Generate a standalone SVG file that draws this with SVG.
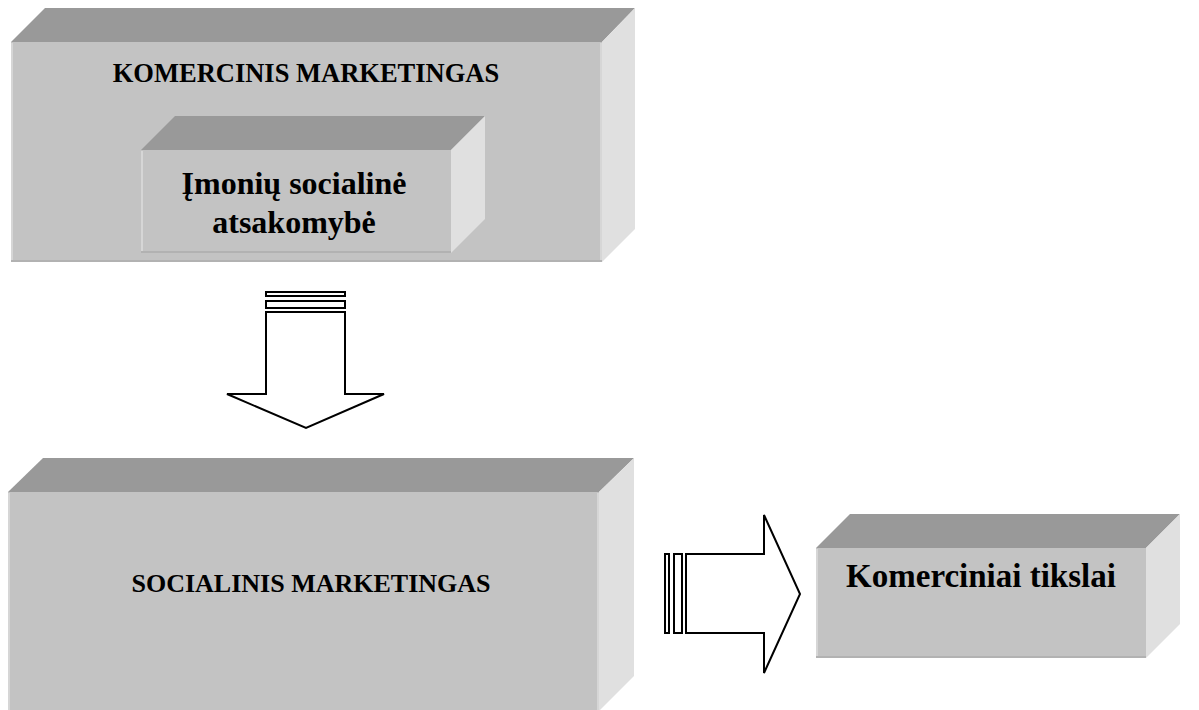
<svg xmlns="http://www.w3.org/2000/svg" width="1199" height="710" viewBox="0 0 1199 710">
<style>
.front{fill:#c3c3c3}
.top{fill:#999999}
.side{fill:#e0e0e0}
.hl{stroke:#d6d6d6;stroke-width:2}
.sh{stroke:#b2b2b2;stroke-width:2}
.lbl{font-family:"Liberation Serif","Times New Roman",serif;font-weight:bold;fill:#000;text-anchor:middle}
.arr{fill:#fff;stroke:#000;stroke-width:2}
</style>
<g id="komercinis">
<polygon class="top" points="11,42 45,8 635,8 602,42"/>
<polygon class="side" points="602,42 635,8 635,229 602,262"/>
<rect class="front" x="11" y="42" width="591" height="220"/>
<line class="hl" x1="12" y1="43" x2="12" y2="261"/>
<line class="hl" x1="601" y1="43" x2="601" y2="261"/>
<line class="sh" x1="11" y1="261" x2="602" y2="261"/>
<text class="lbl" x="306" y="82" font-size="26.5">KOMERCINIS MARKETINGAS</text>
</g>
<g id="imoniu">
<polygon class="top" points="141,150 175,116 485,116 451,150"/>
<polygon class="side" points="451,150 485,116 485,219 451,253"/>
<rect class="front" x="141" y="150" width="310" height="103"/>
<line class="hl" x1="142" y1="151" x2="142" y2="252"/>
<line class="sh" x1="141" y1="252" x2="451" y2="252"/>
<text class="lbl" x="294" y="194" font-size="32">Įmonių socialinė</text>
<text class="lbl" x="294" y="233" font-size="32">atsakomybė</text>
</g>
<g id="socialinis">
<polygon class="top" points="8,492 43,458 634,458 599,492"/>
<polygon class="side" points="599,492 634,458 634,676 599,711"/>
<rect class="front" x="8" y="492" width="591" height="222"/>
<line class="hl" x1="9" y1="493" x2="9" y2="710"/>
<line class="hl" x1="598" y1="493" x2="598" y2="710"/>
<text class="lbl" x="311" y="592" font-size="26">SOCIALINIS MARKETINGAS</text>
</g>
<g id="tikslai">
<polygon class="top" points="816,548 850,514 1180,514 1146,548"/>
<polygon class="side" points="1146,548 1180,514 1180,624 1146,658"/>
<rect class="front" x="816" y="548" width="330" height="110"/>
<line class="hl" x1="817" y1="549" x2="817" y2="657"/>
<line class="sh" x1="816" y1="657" x2="1146" y2="657"/>
<text class="lbl" x="981" y="587" font-size="33">Komerciniai tikslai</text>
</g>
<g id="connectors">
<rect class="arr" x="665" y="554" width="4" height="79"/>
<rect class="arr" x="674" y="554" width="8" height="79"/>
<polygon class="arr" points="686,554 764,554 764,515 800,594 764,673 764,633 686,633"/>
<rect class="arr" x="266" y="292" width="79" height="4"/>
<rect class="arr" x="266" y="301" width="79" height="7"/>
<polygon class="arr" points="266,312 345,312 345,394 384,394 306,428 227,394 266,394"/>
</g>
</svg>
